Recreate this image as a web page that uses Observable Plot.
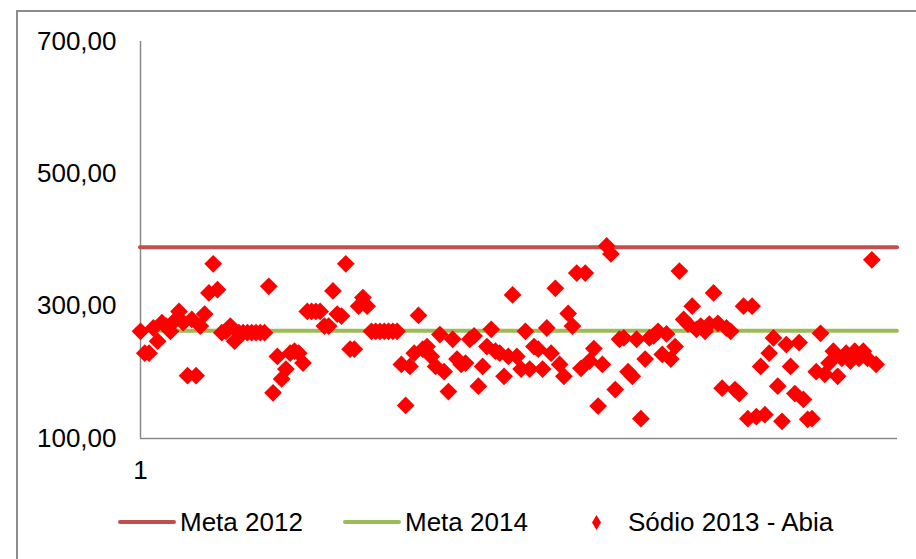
<!DOCTYPE html>
<html><head><meta charset="utf-8">
<script src="https://cdn.jsdelivr.net/npm/d3@7"></script>
<script src="https://cdn.jsdelivr.net/npm/@observablehq/plot@0.6"></script>
<style>
body{margin:0;background:#fff;font-family:"Liberation Sans",Arial,sans-serif;}
#frame{position:absolute;left:16px;top:10px;width:930px;height:570px;border:2px solid #8c8c8c;box-sizing:border-box;}
#chart{position:absolute;left:0;top:0;}
#legend{position:absolute;top:504px;left:0;width:916px;height:36px;font-size:26px;color:#000;}
.item{position:absolute;top:0;height:36px;display:flex;align-items:center;white-space:nowrap;}
</style></head><body>
<div id="frame"></div>
<div id="chart"></div>
<div id="legend"></div>
<script>
// ---- data ----
const metaLabels = ["Meta 2012", "Meta 2014"];
const metaValues = [389, 263];
const metaColors = ["#C0504D", "#9BBB59"];
const sodioLabel = "Sódio 2013 - Abia";
const sodioValues = [
  262, 229, 229, 267, 247, 275, 270, 262, 278, 292, 275, 195, 280, 195, 270, 288, 320, 364, 325,
  260, 262, 270, 247, 260, 260, 260, 260, 260, 260, 260,
  330, 169, 224, 190, 205, 229, 232, 229, 214, 292, 292, 292, 292, 270, 270, 323, 288, 285, 364, 235, 235, 300, 313, 300,
  262, 262, 262, 262, 262, 262, 262,
  212, 150, 209, 229, 286, 235, 239, 224, 209, 257, 201, 171, 250, 220, 212, 214, 250, 255, 179, 209, 239, 265, 232, 229, 194,
  224, 317, 224, 205, 262, 205, 239, 235, 205, 267, 229, 327, 212, 194, 289, 270, 350, 206, 350, 217, 236, 149, 212,
  391, 379, 174, 250, 252, 201, 194, 250, 130, 220, 252, 255, 262, 227, 258, 220, 239, 353, 280, 273, 300, 265, 270,
  262, 273, 320, 274, 176, 267, 262, 174, 168, 300, 130, 300, 133, 209, 136, 229, 252, 179, 126, 242, 209, 168, 245, 159, 129,
  130, 201, 259, 197, 214, 232, 194, 221, 229, 217, 232, 221, 232, 221, 370, 212
];
const nCategories = 178;
const xTickLabels = [1];
const yTicks = [100, 300, 500, 700];

// ---- build ----
const pontos = sodioValues.map((v, i) => ({i: i + 1, v}));
const metas = metaLabels.map((s, k) => ({serie: s, valor: metaValues[k], cor: metaColors[k]}));
const fmt = d => d3.format(".2f")(d).replace(".", ",");

const chart = Plot.plot({
  width: 916, height: 480,
  marginLeft: 140, marginRight: 19, marginTop: 41, marginBottom: 42,
  style: {fontFamily: "'Liberation Sans', Arial, sans-serif", fontSize: "26px", color: "#000", background: "transparent", overflow: "visible"},
  x: {type: "linear", domain: [1, nCategories], axis: null},
  y: {domain: [100, 700], axis: null},
  marks: [
    Plot.axisY({ticks: yTicks, tickFormat: fmt, tickSize: 0, tickPadding: 24, label: null, fontSize: 26}),
    Plot.axisX({ticks: xTickLabels, tickFormat: d => String(d), tickSize: 0, tickPadding: 22, label: null, fontSize: 26}),
    Plot.ruleX([1], {stroke: "#8a8a8a", strokeWidth: 1.5}),
    Plot.ruleY([100], {stroke: "#8a8a8a", strokeWidth: 1.5}),
    ...metas.map(m => Plot.ruleY([m.valor], {stroke: m.cor, strokeWidth: 4, strokeLinecap: "round"})),
    Plot.dot(pontos, {x: "i", y: "v", symbol: "diamond2", r: 8, fill: "#FF0000", stroke: "none"})
  ]
});
document.getElementById("chart").appendChild(chart);

// ---- legend ----
const legend = document.getElementById("legend");
const lineItems = [{left: 117, k: 0}, {left: 342, k: 1}];
lineItems.forEach(({left, k}) => {
  const d = document.createElement("div");
  d.className = "item";
  d.style.left = left + "px";
  d.innerHTML = `<svg width="60" height="10" style="margin-right:3px"><line x1="3" x2="57" y1="5" y2="5" stroke="${metaColors[k]}" stroke-width="4" stroke-linecap="round"/></svg><span>${metaLabels[k]}</span>`;
  legend.appendChild(d);
});
const dItem = document.createElement("div");
dItem.className = "item";
dItem.style.left = "591px";
dItem.innerHTML = `<svg width="11" height="17" style="margin-right:26px"><path d="M5.5,1 L10,8.5 L5.5,16 L1,8.5 Z" fill="#FF0000"/></svg><span>${sodioLabel}</span>`;
legend.appendChild(dItem);
</script></body></html>
